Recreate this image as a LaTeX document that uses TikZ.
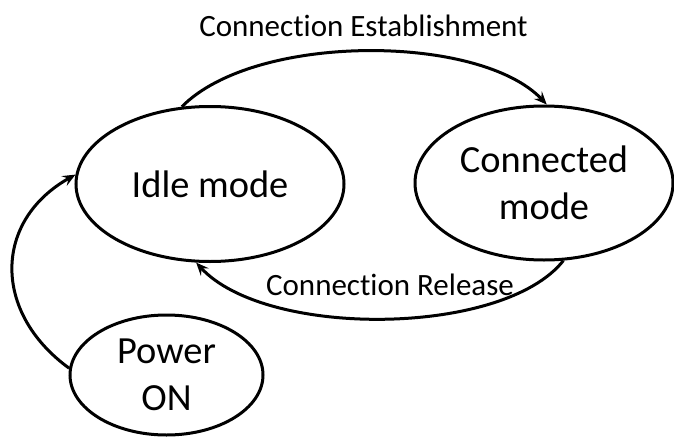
\documentclass[tikz,border=0pt]{standalone}
\usepackage{fontspec}
\setmainfont{Carlito}[RawFeature={-liga;-clig;-dlig;-calt}]
\usetikzlibrary{shapes.geometric,arrows.meta}
\begin{document}
\begin{tikzpicture}[x=1pt,y=-1pt,
  state/.style={draw, ellipse, line width=3pt, inner sep=0pt, align=center,
    font=\fontsize{38.4}{46.7}\selectfont},
  trans/.style={line width=3pt, -{Stealth[length=13pt,width=11pt,inset=5pt]}},
  lbl/.style={anchor=base, inner sep=0pt, font=\fontsize{31}{37}\selectfont}]
\useasboundingbox (0,0) rectangle (674,436);
% states
\node[state, minimum width=268pt, minimum height=155pt] (idle) at (210,184) {Idle mode};
\node[state, minimum width=258pt, minimum height=154pt] (conn) at (544,183) {Connected\\mode};
\node[state, minimum width=193pt, minimum height=120pt] (power) at (166.5,375) {Power\\ON};
% transitions
\draw[trans] (idle.110) .. controls +(73,-74) and +(-67,-71) .. (conn.88);
\draw[trans] (conn.284) .. controls +(-60,76) and +(70,76) .. (idle.260);
\draw[trans] (power.176) .. controls +(-77,-56) and +(-82,46) .. (idle.176);
% transition labels
\node[lbl] (estab) at (363.5,37) {Connection Establishment};
\node[lbl] (rel) at (390,295) {Connection Release};
\end{tikzpicture}
\end{document}
